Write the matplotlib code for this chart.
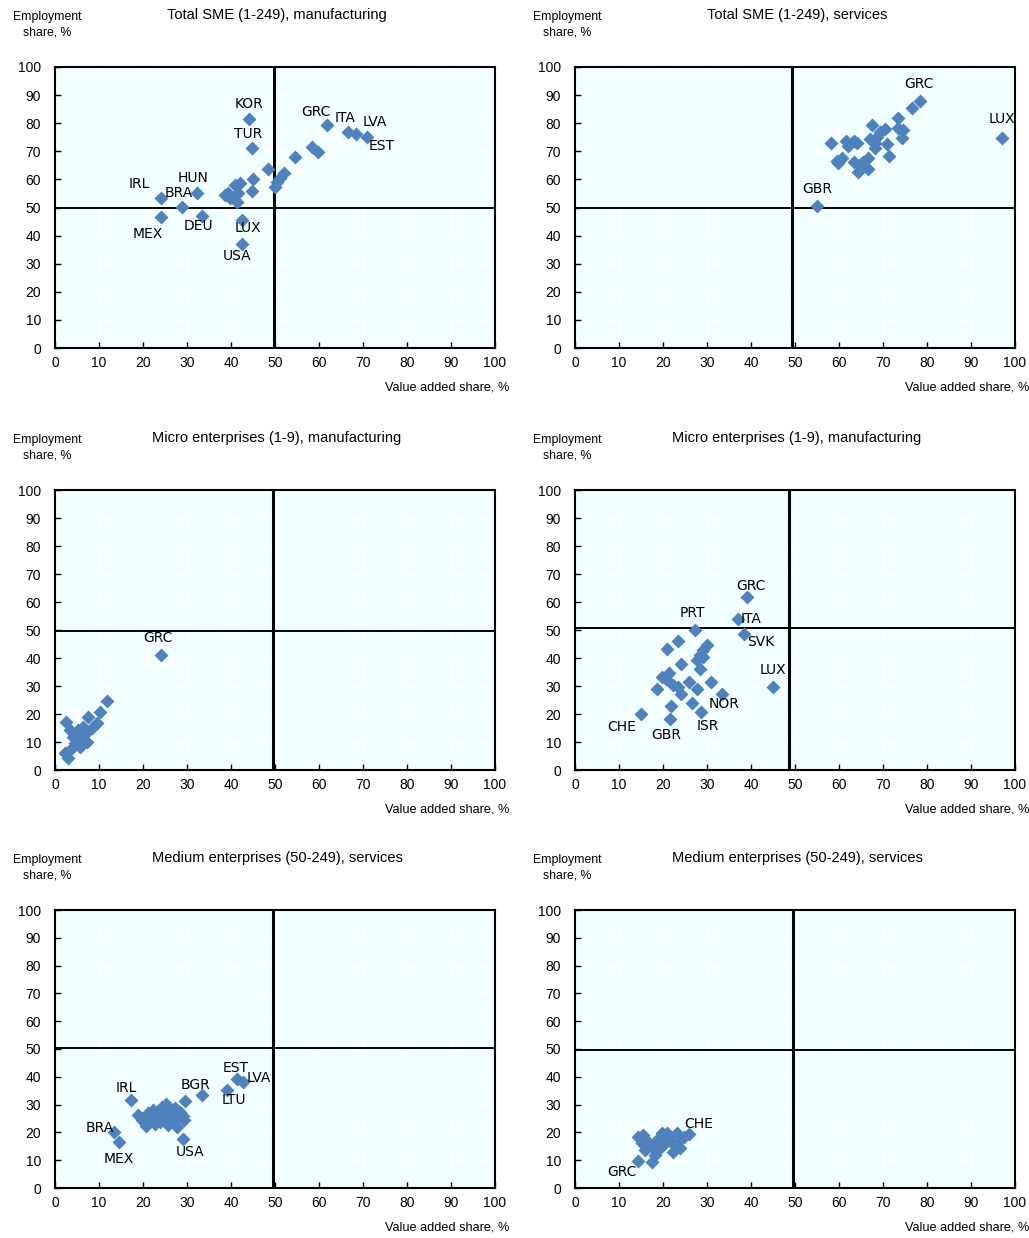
import numpy as np
import matplotlib
matplotlib.use('Agg')
import matplotlib.pyplot as plt

# value added share (x) and employment share (y), %, by country
sme_manuf_x = [44.2, 44.7, 61.9, 66.7, 68.3, 70.8, 58.3, 59.7, 54.5, 48.5, 52.0, 51.1, 50.0, 50.4,
               45.1, 44.7, 42.0, 40.9, 39.4, 38.6, 39.8, 41.7, 41.3, 32.2, 24.2, 28.8, 24.1, 33.3,
               42.4, 42.4]
sme_manuf_y = [81.4, 71.1, 79.4, 76.8, 76.0, 75.0, 71.4, 69.6, 68.1, 63.6, 62.2, 60.4, 57.4, 59.2,
               60.0, 56.0, 58.6, 58.0, 55.0, 54.4, 53.3, 55.0, 52.1, 55.3, 53.3, 50.1, 46.5, 47.1,
               45.6, 36.9]
sme_manuf_lab = ['KOR', 'TUR', 'GRC', 'ITA', 'LVA', 'EST', '', '', '', '', '', '', '', '',
                 '', '', '', '', '', '', '', '', '', 'HUN', 'IRL', 'BRA', 'MEX', 'DEU',
                 'LUX', 'USA']

sme_serv_x = [78.3, 76.5, 73.3, 67.4, 70.5, 69.3, 74.5, 73.5, 74.4, 67.0, 68.2, 70.8, 68.2, 71.4,
              58.2, 61.7, 63.3, 64.0, 62.1, 60.6, 59.5, 59.8, 63.3, 64.8, 66.7, 64.4, 66.5, 65.5,
              68.6, 97.1, 55.1]
sme_serv_y = [88.0, 85.3, 81.7, 79.4, 77.8, 77.0, 77.6, 78.2, 74.8, 74.3, 72.8, 72.6, 71.3, 68.3,
              73.1, 73.8, 73.8, 72.8, 71.9, 67.5, 66.7, 65.7, 66.3, 65.1, 67.5, 62.7, 63.6, 66.3,
              75.2, 74.6, 50.5]
sme_serv_lab = ['GRC'] + [''] * 28 + ['LUX', 'GBR']

micro_manuf_x = [24.2, 11.9, 10.2, 7.6, 9.5, 2.5, 3.4, 5.3, 6.4, 8.3, 4.2, 6.1, 7.2, 4.5, 5.7, 3.8,
                 2.3, 3.0, 4.8, 6.8]
micro_manuf_y = [41.1, 24.8, 20.8, 19.0, 16.7, 17.3, 14.3, 14.3, 15.5, 14.9, 11.9, 11.9, 10.1, 9.5,
                 8.3, 7.7, 6.0, 4.2, 13.0, 12.8]
micro_manuf_lab = ['GRC'] + [''] * 19

micro_serv_x = [39.2, 37.1, 38.3, 27.3, 44.9, 33.3, 28.6, 14.9, 21.7, 21.8, 23.3, 20.8, 29.9, 29.2,
                28.4, 29.0, 27.7, 28.3, 24.2, 21.4, 19.7, 18.6, 22.3, 23.5, 25.8, 24.2, 27.7, 30.8,
                26.5, 20.6]
micro_serv_y = [61.7, 53.8, 48.6, 50.0, 29.5, 27.0, 20.6, 20.0, 18.2, 22.9, 46.2, 43.2, 44.6, 42.9,
                41.1, 40.2, 39.3, 36.0, 37.9, 34.5, 33.3, 28.8, 30.4, 29.5, 31.5, 27.1, 28.8, 31.3,
                24.0, 32.6]
micro_serv_lab = ['GRC', 'ITA', 'SVK', 'PRT', 'LUX', 'NOR', 'ISR', 'CHE', 'GBR'] + [''] * 21

med_manuf_x = [17.2, 13.5, 14.6, 29.0, 33.3, 39.0, 41.4, 42.8, 29.3, 27.7,
               18.9, 19.8, 20.7, 21.1, 21.6, 22.3, 23.0, 23.4, 23.9, 24.3, 24.8, 25.2, 25.7, 26.1,
               26.6, 27.3, 27.7, 28.4, 29.1, 29.5, 25.7, 22.7]
med_manuf_y = [31.7, 20.3, 16.7, 17.6, 33.5, 35.3, 39.1, 38.2, 24.5, 22.1,
               26.3, 24.5, 22.3, 27.0, 24.5, 28.1, 25.5, 27.3, 23.7, 29.1, 26.3, 30.2, 28.1, 24.5,
               27.0, 28.8, 25.2, 27.3, 25.9, 31.3, 22.7, 23.0]
med_manuf_lab = ['IRL', 'BRA', 'MEX', 'USA', 'BGR', 'LTU', 'EST', 'LVA'] + [''] * 24

med_serv_x = [26.0, 14.4, 14.4, 15.5, 16.7, 15.2, 15.9, 17.4, 18.2, 18.6, 19.7, 20.8, 20.5, 22.0,
              23.1, 23.5, 22.3, 23.9, 17.4, 19.2, 24.8, 21.2]
med_serv_y = [19.3, 9.7, 18.5, 19.1, 16.7, 16.1, 13.7, 9.5, 11.9, 17.3, 19.9, 19.7, 16.1, 16.1,
              19.7, 16.7, 13.1, 14.3, 14.9, 14.0, 18.2, 18.3]
med_serv_lab = ['CHE', 'GRC'] + [''] * 20

titles = ['Total SME (1-249), manufacturing', 'Total SME (1-249), services',
          'Micro enterprises (1-9), manufacturing', 'Micro enterprises (1-9), manufacturing',
          'Medium enterprises (50-249), services', 'Medium enterprises (50-249), services']

# reference lines (x, y) for each panel
ref_x = [49.8, 49.3, 49.5, 48.6, 49.5, 49.5]
ref_y = [50.0, 50.0, 49.6, 50.7, 50.4, 49.6]

panels = [(sme_manuf_x, sme_manuf_y, sme_manuf_lab),
          (sme_serv_x, sme_serv_y, sme_serv_lab),
          (micro_manuf_x, micro_manuf_y, micro_manuf_lab),
          (micro_serv_x, micro_serv_y, micro_serv_lab),
          (med_manuf_x, med_manuf_y, med_manuf_lab),
          (med_serv_x, med_serv_y, med_serv_lab)]

# label offsets in pixels (right, up)
offsets = [
    {'KOR': (0, 15), 'TUR': (-4, 14), 'GRC': (-11, 13), 'ITA': (-3, 14), 'LVA': (19, 12),
     'EST': (15, -9), 'HUN': (-4, 15), 'IRL': (-22, 14), 'BRA': (-3, 14), 'MEX': (-13, -17),
     'DEU': (-3, -10), 'LUX': (6, -8), 'USA': (-4, -12)},
    {'GRC': (-1, 17), 'LUX': (0, 19), 'GBR': (0, 17)},
    {'GRC': (-4, 17)},
    {'GRC': (3, 11), 'PRT': (-3, 17), 'ITA': (13, 0), 'SVK': (17, -8), 'LUX': (0, 17),
     'NOR': (3, -10), 'ISR': (7, -14), 'CHE': (-19, -13), 'GBR': (-4, -16)},
    {'IRL': (-4, 12), 'BRA': (-15, 4), 'MEX': (0, -17), 'USA': (7, -13), 'BGR': (-6, 10),
     'LTU': (7, -10), 'EST': (-2, 11), 'LVA': (15, 4)},
    {'CHE': (9, 10), 'GRC': (-16, -11)},
]

plt.rcParams['font.family'] = ['Liberation Sans', 'DejaVu Sans']

W, H = 1029, 1238
fig = plt.figure(figsize=(W / 100, H / 100), dpi=100)
lefts = [55, 575]
rows = [(67, 348), (490, 770), (910, 1188)]
blue = '#4F81BD'

for i, (xs, ys, labs) in enumerate(panels):
    top, bot = rows[i // 2]
    left = lefts[i % 2]
    ax = fig.add_axes([left / W, 1 - bot / H, 440 / W, (bot - top) / H])
    ax.set_facecolor('#F2FFFF')
    ax.set_xlim(0, 100)
    ax.set_ylim(0, 100)
    ax.set_xticks(np.arange(0, 101, 10))
    ax.set_yticks(np.arange(0, 101, 10))
    ax.grid(True, color='white', lw=1)
    ax.set_axisbelow(True)
    for s in ax.spines.values():
        s.set_linewidth(1.5)
    ax.tick_params(direction='in', length=4, width=1, labelsize=10, colors='black')
    ax.tick_params(axis='y', pad=10)
    ax.tick_params(axis='x', pad=6)

    ax.axvline(ref_x[i], color='black', lw=2.2, zorder=2)
    ax.axhline(ref_y[i], color='black', lw=1.4, zorder=2)
    ax.plot(xs, ys, ls='none', marker='D', ms=7.2, color=blue, mec='none', zorder=3)

    for x, y, lab in zip(xs, ys, labs):
        if lab:
            ax.annotate(lab, xy=(x, y), xytext=offsets[i][lab], textcoords='offset pixels',
                        ha='center', va='center', fontsize=10, family='DejaVu Sans', zorder=4)

    ax.annotate(titles[i], xy=(0.5, 1), xycoords='axes fraction', xytext=(2, 52),
                textcoords='offset pixels', ha='center', va='center', fontsize=10.5)
    ax.annotate('Employment\nshare, %', xy=(0, 1), xycoords='axes fraction', xytext=(-8, 42),
                textcoords='offset pixels', ha='center', va='center', fontsize=8.8,
                multialignment='center', linespacing=1.35)
    ax.annotate('Value added share, %', xy=(1, 0), xycoords='axes fraction', xytext=(14, -39),
                textcoords='offset pixels', ha='right', va='center', fontsize=9.2)

fig.savefig('out.png', dpi=100)
